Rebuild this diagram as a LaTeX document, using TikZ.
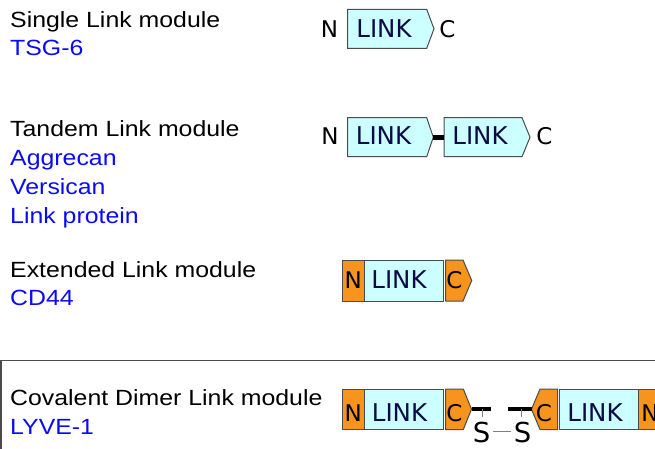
\documentclass[tikz,border=0pt]{standalone}
\usepackage{fontspec}
\setmainfont{Liberation Sans}
\newfontfamily\dejavu{DejaVu Sans}
\usepackage{graphicx}
\definecolor{cyanfill}{RGB}{204,255,255}
\definecolor{orangefill}{RGB}{247,148,30}
\definecolor{edgegray}{RGB}{75,75,75}
\definecolor{navytext}{RGB}{10,10,70}
\definecolor{listblue}{RGB}{10,10,250}
\newcommand{\widetext}[1]{\scalebox{1.13}[1]{#1}}
\begin{document}
\begin{tikzpicture}[x=1pt,y=-1pt,
  title/.style={anchor=base west, inner sep=0pt, font=\fontsize{22}{26}\selectfont},
  member/.style={title, text=listblue},
  linkbox/.style={draw=edgegray, line width=1pt, fill=cyanfill, line join=miter},
  orangebox/.style={draw=edgegray, line width=1pt, fill=orangefill, line join=miter},
  linktext/.style={anchor=base, inner sep=0pt, text=navytext, font=\dejavu\fontsize{24.5}{28}\selectfont},
  endtext/.style={anchor=base, inner sep=0pt, font=\dejavu\fontsize{23}{26}\selectfont},
  stext/.style={anchor=base, inner sep=0pt, font=\dejavu\fontsize{27.5}{30}\selectfont},
  bar/.style={line width=4.5pt, black},
  thin/.style={line width=1pt, gray},
  frameline/.style={line width=1.3pt, edgegray}
]
\useasboundingbox (0,0) rectangle (655,449);

% ---------- left titles ----------
\node[title]  (t1) at (10,28)  {\widetext{Single Link module}};
\node[member] (m1) at (10,56)  {\widetext{TSG-6}};
\node[title]  (t2) at (10,137) {\widetext{Tandem Link module}};
\node[member] (m2) at (10,165) {\widetext{Aggrecan}};
\node[member] (m3) at (10,194) {\widetext{Versican}};
\node[member] (m4) at (10,223) {\widetext{Link protein}};
\node[title]  (t3) at (10,277) {\widetext{Extended Link module}};
\node[member] (m5) at (10,305) {\widetext{CD44}};
\node[title]  (t4) at (10,405) {\widetext{Covalent Dimer Link module}};
\node[member] (m6) at (10,434) {\widetext{LYVE-1}};

% ---------- frame ----------
\draw[frameline] (1,449) -- (1,360.7) -- (655,360.7);

% ---------- row 1: single ----------
\draw[linkbox] (347.7,9.3) -- (426.7,9.3) -- (434,28.8) -- (426.7,48.3) -- (347.7,48.3) -- cycle;
\node[linktext] (l1) at (384,37.5) {LINK};
\node[endtext] (n1) at (329.5,37.3) {N};
\node[endtext] (c1) at (447.5,37.5) {C};

% ---------- row 2: tandem ----------
\draw[linkbox] (347.7,117.7) -- (426.7,117.7) -- (433.3,137.2) -- (426.7,156.7) -- (347.7,156.7) -- cycle;
\draw[linkbox] (444,117.7) -- (522,117.7) -- (530,137.2) -- (522,156.7) -- (444,156.7) -- cycle;
\coordinate (tip2a) at (433.3,137.3);
\coordinate (left2b) at (444,137.3);
\draw[bar] (tip2a) -- (left2b);
\node[linktext] (l2a) at (383.5,145) {LINK};
\node[linktext] (l2b) at (480,145) {LINK};
\node[endtext] (n2) at (330,145) {N};
\node[endtext] (c2) at (544.5,145) {C};

% ---------- row 3: extended ----------
\draw[orangebox] (342.3,260) rectangle (364.3,301);
\draw[linkbox] (364.3,260) rectangle (443.5,301);
\draw[orangebox] (445.5,260) -- (463,260) -- (471.7,280.5) -- (463,301) -- (445.5,301) -- cycle;
\node[endtext] (n3) at (353.3,288) {N};
\node[linktext] (l3) at (399,288) {LINK};
\node[endtext] (c3) at (454.5,288) {C};

% ---------- row 4: covalent dimer ----------
\draw[orangebox] (342.3,389) rectangle (364.3,429.5);
\draw[linkbox] (364.3,389) rectangle (443.5,429.5);
\draw[orangebox] (445.7,389) -- (463.3,389) -- (471.5,409.2) -- (463.3,429.5) -- (445.7,429.5) -- cycle;
\node[endtext] (n4) at (353.3,421) {N};
\node[linktext] (l4) at (399.5,421) {LINK};
\node[endtext] (c4) at (454.5,421) {C};

\draw[orangebox] (557.5,389) -- (540,389) -- (531.5,409.2) -- (540,429.5) -- (557.5,429.5) -- cycle;
\draw[linkbox] (559.5,389) rectangle (638.7,429.5);
\draw[orangebox] (638.7,389) rectangle (662,429.5);
\node[endtext] (c5) at (544,421) {C};
\node[linktext] (l5) at (595,421) {LINK};
\node[endtext] (n5) at (650,421) {N};

\coordinate (tip4a) at (471.5,409.2);
\coordinate (end4a) at (491,409.2);
\coordinate (tip4b) at (531.5,409.2);
\coordinate (end4b) at (508,409.2);
\draw[bar] (tip4a) -- (end4a);
\draw[bar] (end4b) -- (tip4b);
\node[stext] (s1) at (481.5,442.7) {S};
\node[stext] (s2) at (522.5,442.7) {S};
\coordinate (s1top) at (482.5,416.5);
\coordinate (s2top) at (521,416.5);
\draw[thin] (482.5,409.2) -- (s1top);
\draw[thin] (521,409.2) -- (s2top);
\draw[thin] ([xshift=3pt]s1.east |- 0,431.5) -- ([xshift=-3pt]s2.west |- 0,431.5);
\end{tikzpicture}
\end{document}
